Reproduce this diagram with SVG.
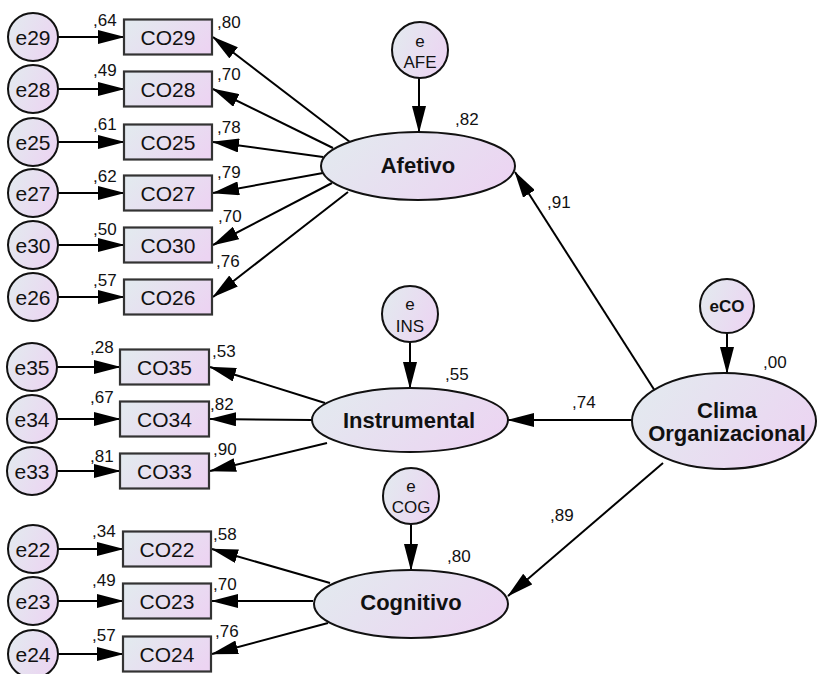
<svg xmlns="http://www.w3.org/2000/svg" width="817" height="674" viewBox="0 0 817 674">
  <defs>
    <linearGradient id="fill" x1="0" y1="0.3" x2="1" y2="0.7">
      <stop offset="0" stop-color="#e3e9ef"/>
      <stop offset="1" stop-color="#ecd4f2"/>
    </linearGradient>
    <marker id="arrow" markerUnits="userSpaceOnUse" markerWidth="27" markerHeight="14" viewBox="0 0 27 14" refX="26" refY="7" orient="auto">
      <path d="M0,0 L27,7 L0,14 Z" fill="#000"/>
    </marker>
    <style>
      .shape { fill: url(#fill); stroke: #111; stroke-width: 2; }
      .box { fill: url(#fill); stroke: #333; stroke-width: 2.2; }
      .path { stroke: #000; stroke-width: 2; fill: none; marker-end: url(#arrow); }
      text { font-family: "Liberation Sans", Arial, sans-serif; fill: #111; }
      .obs { font-size: 21px; text-anchor: middle; }
      .err { font-size: 21px; text-anchor: middle; }
      .lat { font-size: 22px; font-weight: bold; text-anchor: middle; }
      .res { font-size: 17px; text-anchor: middle; }
      .num { font-size: 17px; }
    </style>
  </defs>

  <!-- connectors -->
  <g id="connectors">
    <!-- error terms to indicators -->
    <line class="path" x1="58" y1="37" x2="124" y2="37"/>
    <line class="path" x1="58" y1="89" x2="124" y2="89"/>
    <line class="path" x1="58" y1="142" x2="124" y2="142"/>
    <line class="path" x1="58" y1="193" x2="124" y2="193"/>
    <line class="path" x1="58" y1="245" x2="124" y2="245"/>
    <line class="path" x1="58" y1="297" x2="124" y2="297"/>
    <line class="path" x1="57" y1="367" x2="120" y2="367"/>
    <line class="path" x1="57" y1="419" x2="120" y2="419"/>
    <line class="path" x1="57" y1="471" x2="120" y2="471"/>
    <line class="path" x1="58" y1="549" x2="123" y2="549"/>
    <line class="path" x1="58" y1="601" x2="123" y2="601"/>
    <line class="path" x1="58" y1="654" x2="123" y2="654"/>
    <!-- Afetivo loadings -->
    <line class="path" x1="350" y1="142" x2="213" y2="37"/>
    <line class="path" x1="333" y1="148" x2="213" y2="89"/>
    <line class="path" x1="323" y1="157" x2="213" y2="142"/>
    <line class="path" x1="323" y1="173" x2="213" y2="193"/>
    <line class="path" x1="332" y1="183" x2="213" y2="245"/>
    <line class="path" x1="348" y1="192" x2="213" y2="297"/>
    <!-- Instrumental loadings -->
    <line class="path" x1="325" y1="403" x2="210" y2="367"/>
    <line class="path" x1="312" y1="420" x2="210" y2="419"/>
    <line class="path" x1="327" y1="443" x2="210" y2="471"/>
    <!-- Cognitivo loadings -->
    <line class="path" x1="330" y1="583" x2="212" y2="549"/>
    <line class="path" x1="313" y1="601" x2="212" y2="601"/>
    <line class="path" x1="328" y1="623" x2="212" y2="654"/>
    <!-- residuals of latent factors -->
    <line class="path" x1="419" y1="78" x2="419" y2="132"/>
    <line class="path" x1="410" y1="342" x2="410" y2="388"/>
    <line class="path" x1="411" y1="524" x2="411" y2="570"/>
    <line class="path" x1="727" y1="333" x2="727" y2="373"/>
    <!-- second-order paths -->
    <line class="path" x1="655" y1="391" x2="515" y2="172"/>
    <line class="path" x1="632" y1="420" x2="508" y2="420"/>
    <line class="path" x1="663" y1="463" x2="508" y2="596"/>
  </g>

  <!-- path coefficients and squared multiple correlations -->
  <g id="estimates" class="num">
    <text x="93" y="26">,64</text>
    <text x="93" y="76">,49</text>
    <text x="93" y="130">,61</text>
    <text x="93" y="182">,62</text>
    <text x="93" y="235">,50</text>
    <text x="93" y="286">,57</text>
    <text x="217" y="28">,80</text>
    <text x="217" y="80">,70</text>
    <text x="217" y="133">,78</text>
    <text x="217" y="178">,79</text>
    <text x="218" y="222">,70</text>
    <text x="216" y="267">,76</text>
    <text x="90" y="353">,28</text>
    <text x="90" y="403">,67</text>
    <text x="90" y="462">,81</text>
    <text x="212" y="357">,53</text>
    <text x="210" y="410">,82</text>
    <text x="213" y="455">,90</text>
    <text x="92" y="537">,34</text>
    <text x="92" y="586">,49</text>
    <text x="92" y="641">,57</text>
    <text x="213" y="540">,58</text>
    <text x="213" y="590">,70</text>
    <text x="215" y="637">,76</text>
    <text x="455" y="125">,82</text>
    <text x="445" y="380">,55</text>
    <text x="447" y="562">,80</text>
    <text x="763" y="368">,00</text>
    <text x="547" y="208">,91</text>
    <text x="572" y="408">,74</text>
    <text x="550" y="521">,89</text>
  </g>

  <!-- error terms -->
  <g id="e29"><ellipse class="shape" cx="33" cy="37" rx="25" ry="24"/><text class="err" x="33" y="44.5">e29</text></g>
  <g id="e28"><ellipse class="shape" cx="33" cy="89" rx="25" ry="24"/><text class="err" x="33" y="96.5">e28</text></g>
  <g id="e25"><ellipse class="shape" cx="33" cy="142" rx="25" ry="24"/><text class="err" x="33" y="149.5">e25</text></g>
  <g id="e27"><ellipse class="shape" cx="33" cy="193" rx="25" ry="24"/><text class="err" x="33" y="200.5">e27</text></g>
  <g id="e30"><ellipse class="shape" cx="33" cy="245" rx="25" ry="24"/><text class="err" x="33" y="252.5">e30</text></g>
  <g id="e26"><ellipse class="shape" cx="33" cy="297" rx="25" ry="24"/><text class="err" x="33" y="304.5">e26</text></g>
  <g id="e35"><ellipse class="shape" cx="32" cy="367" rx="25" ry="24"/><text class="err" x="32" y="374.5">e35</text></g>
  <g id="e34"><ellipse class="shape" cx="32" cy="419" rx="25" ry="24"/><text class="err" x="32" y="426.5">e34</text></g>
  <g id="e33"><ellipse class="shape" cx="32" cy="471" rx="25" ry="24"/><text class="err" x="32" y="478.5">e33</text></g>
  <g id="e22"><ellipse class="shape" cx="33" cy="549" rx="25" ry="24"/><text class="err" x="33" y="556.5">e22</text></g>
  <g id="e23"><ellipse class="shape" cx="33" cy="601" rx="25" ry="24"/><text class="err" x="33" y="608.5">e23</text></g>
  <g id="e24"><ellipse class="shape" cx="33" cy="654" rx="25" ry="24"/><text class="err" x="33" y="661.5">e24</text></g>

  <!-- observed indicators -->
  <g id="CO29"><rect class="box" x="124" y="19.5" width="88" height="35"/><text class="obs" x="168" y="44.5">CO29</text></g>
  <g id="CO28"><rect class="box" x="124" y="71.5" width="88" height="35"/><text class="obs" x="168" y="96.5">CO28</text></g>
  <g id="CO25"><rect class="box" x="124" y="124.5" width="88" height="35"/><text class="obs" x="168" y="149.5">CO25</text></g>
  <g id="CO27"><rect class="box" x="124" y="175.5" width="88" height="35"/><text class="obs" x="168" y="200.5">CO27</text></g>
  <g id="CO30"><rect class="box" x="124" y="227.5" width="88" height="35"/><text class="obs" x="168" y="252.5">CO30</text></g>
  <g id="CO26"><rect class="box" x="124" y="279.5" width="88" height="35"/><text class="obs" x="168" y="304.5">CO26</text></g>
  <g id="CO35"><rect class="box" x="120" y="349.5" width="89" height="35"/><text class="obs" x="164.5" y="374.5">CO35</text></g>
  <g id="CO34"><rect class="box" x="120" y="401.5" width="89" height="35"/><text class="obs" x="164.5" y="426.5">CO34</text></g>
  <g id="CO33"><rect class="box" x="120" y="453.5" width="89" height="35"/><text class="obs" x="164.5" y="478.5">CO33</text></g>
  <g id="CO22"><rect class="box" x="123" y="531.5" width="88" height="35"/><text class="obs" x="167" y="556.5">CO22</text></g>
  <g id="CO23"><rect class="box" x="123" y="583.5" width="88" height="35"/><text class="obs" x="167" y="608.5">CO23</text></g>
  <g id="CO24"><rect class="box" x="123" y="636.5" width="88" height="35"/><text class="obs" x="167" y="661.5">CO24</text></g>

  <!-- first-order factors -->
  <g id="Afetivo"><ellipse class="shape" cx="418" cy="166" rx="97" ry="34"/><text class="lat" x="418" y="173">Afetivo</text></g>
  <g id="Instrumental"><ellipse class="shape" cx="410" cy="420" rx="98" ry="32"/><text class="lat" x="409" y="428">Instrumental</text></g>
  <g id="Cognitivo"><ellipse class="shape" cx="411" cy="604" rx="97" ry="34"/><text class="lat" x="411" y="610">Cognitivo</text></g>

  <!-- second-order factor -->
  <g id="ClimaOrganizacional"><ellipse class="shape" cx="724" cy="421" rx="92" ry="48"/><text class="lat" x="727" y="418">Clima</text><text class="lat" x="727" y="441">Organizacional</text></g>

  <!-- factor residuals -->
  <g id="eAFE"><circle class="shape" cx="420" cy="50" r="28"/><text class="res" x="420" y="47">e</text><text class="res" x="420" y="68">AFE</text></g>
  <g id="eINS"><circle class="shape" cx="410" cy="314" r="28"/><text class="res" x="410" y="310">e</text><text class="res" x="410" y="332">INS</text></g>
  <g id="eCOG"><circle class="shape" cx="411" cy="496" r="28"/><text class="res" x="411" y="492">e</text><text class="res" x="411" y="513">COG</text></g>
  <g id="eCO"><circle class="shape" cx="727" cy="306" r="27"/><text class="res" x="727" y="312" font-weight="bold" font-size="16">eCO</text></g>
</svg>
